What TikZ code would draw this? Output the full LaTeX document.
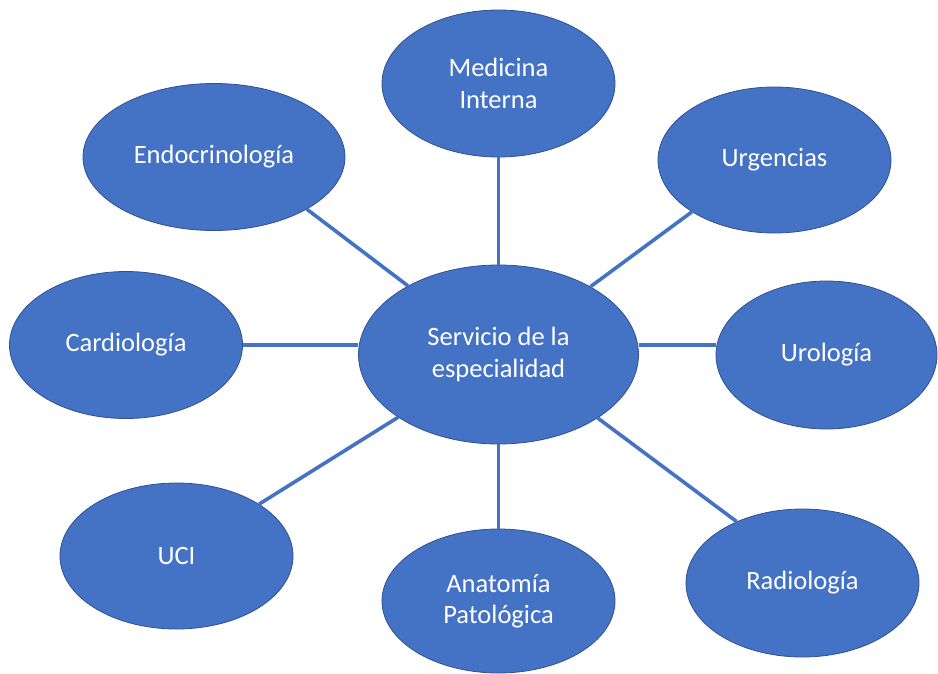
\documentclass[tikz,border=0pt]{standalone}
\usepackage{fontspec}
\setmainfont{Carlito}
\usepackage{xcolor}
\usepackage{tikz}
\usetikzlibrary{shapes.geometric}
\definecolor{officeblue}{HTML}{4472C4}
\definecolor{officeedge}{HTML}{2F528F}

\begin{document}
\begin{tikzpicture}[x=1pt, y=-1pt,
	area/.style={ellipse, fill=officeblue, draw=officeedge, line width=0.8pt, text=white, align=center, inner sep=0pt, minimum width=233pt, minimum height=147pt, font=\fontsize{26.5}{31.5}\selectfont},
	link/.style={draw=officeblue, line width=3.6pt}]
	\useasboundingbox (0, 0) rectangle (938, 673);

	%Center
	\node[area, minimum width=280pt, minimum height=179pt] (serv) at (498.5, 354.5) {Servicio de la\\especialidad};

	%Top row
	\node[area, minimum width=262pt] (endo) at (214, 157) {Endocrinología};
	\node[area] (medi) at (498.5, 83.5) {Medicina\\Interna};
	\node[area, minimum height=146pt] (urge) at (774.5, 160) {Urgencias};

	%Middle row
	\node[area] (cardio) at (126, 345) {Cardiología};
	\node[area, minimum width=221pt, minimum height=148pt] (uro) at (826.5, 355) {Urología};

	%Bottom row
	\node[area, minimum height=146pt] (uci) at (176.5, 556) {UCI};
	\node[area, minimum height=144pt] (anat) at (498.5, 601) {Anatomía\\Patológica};
	\node[area, minimum height=148pt] (radio) at (802.5, 583) {Radiología};

	%Lines
	\draw[link] (medi) -- (serv);
	\draw[link] (endo.south east) -- (serv);
	\draw[link] (urge.south west) -- (serv);
	\draw[link] (cardio.east) -- (cardio.east -| serv.west);
	\draw[link] (serv.east |- cardio.east) -- (uro.west |- cardio.east);
	\draw[link] (uci.north east) -- (serv);
	\draw[link] (serv.south east) -- (radio.137);
	\draw[link] (serv) -- (anat);
\end{tikzpicture}
\end{document}
